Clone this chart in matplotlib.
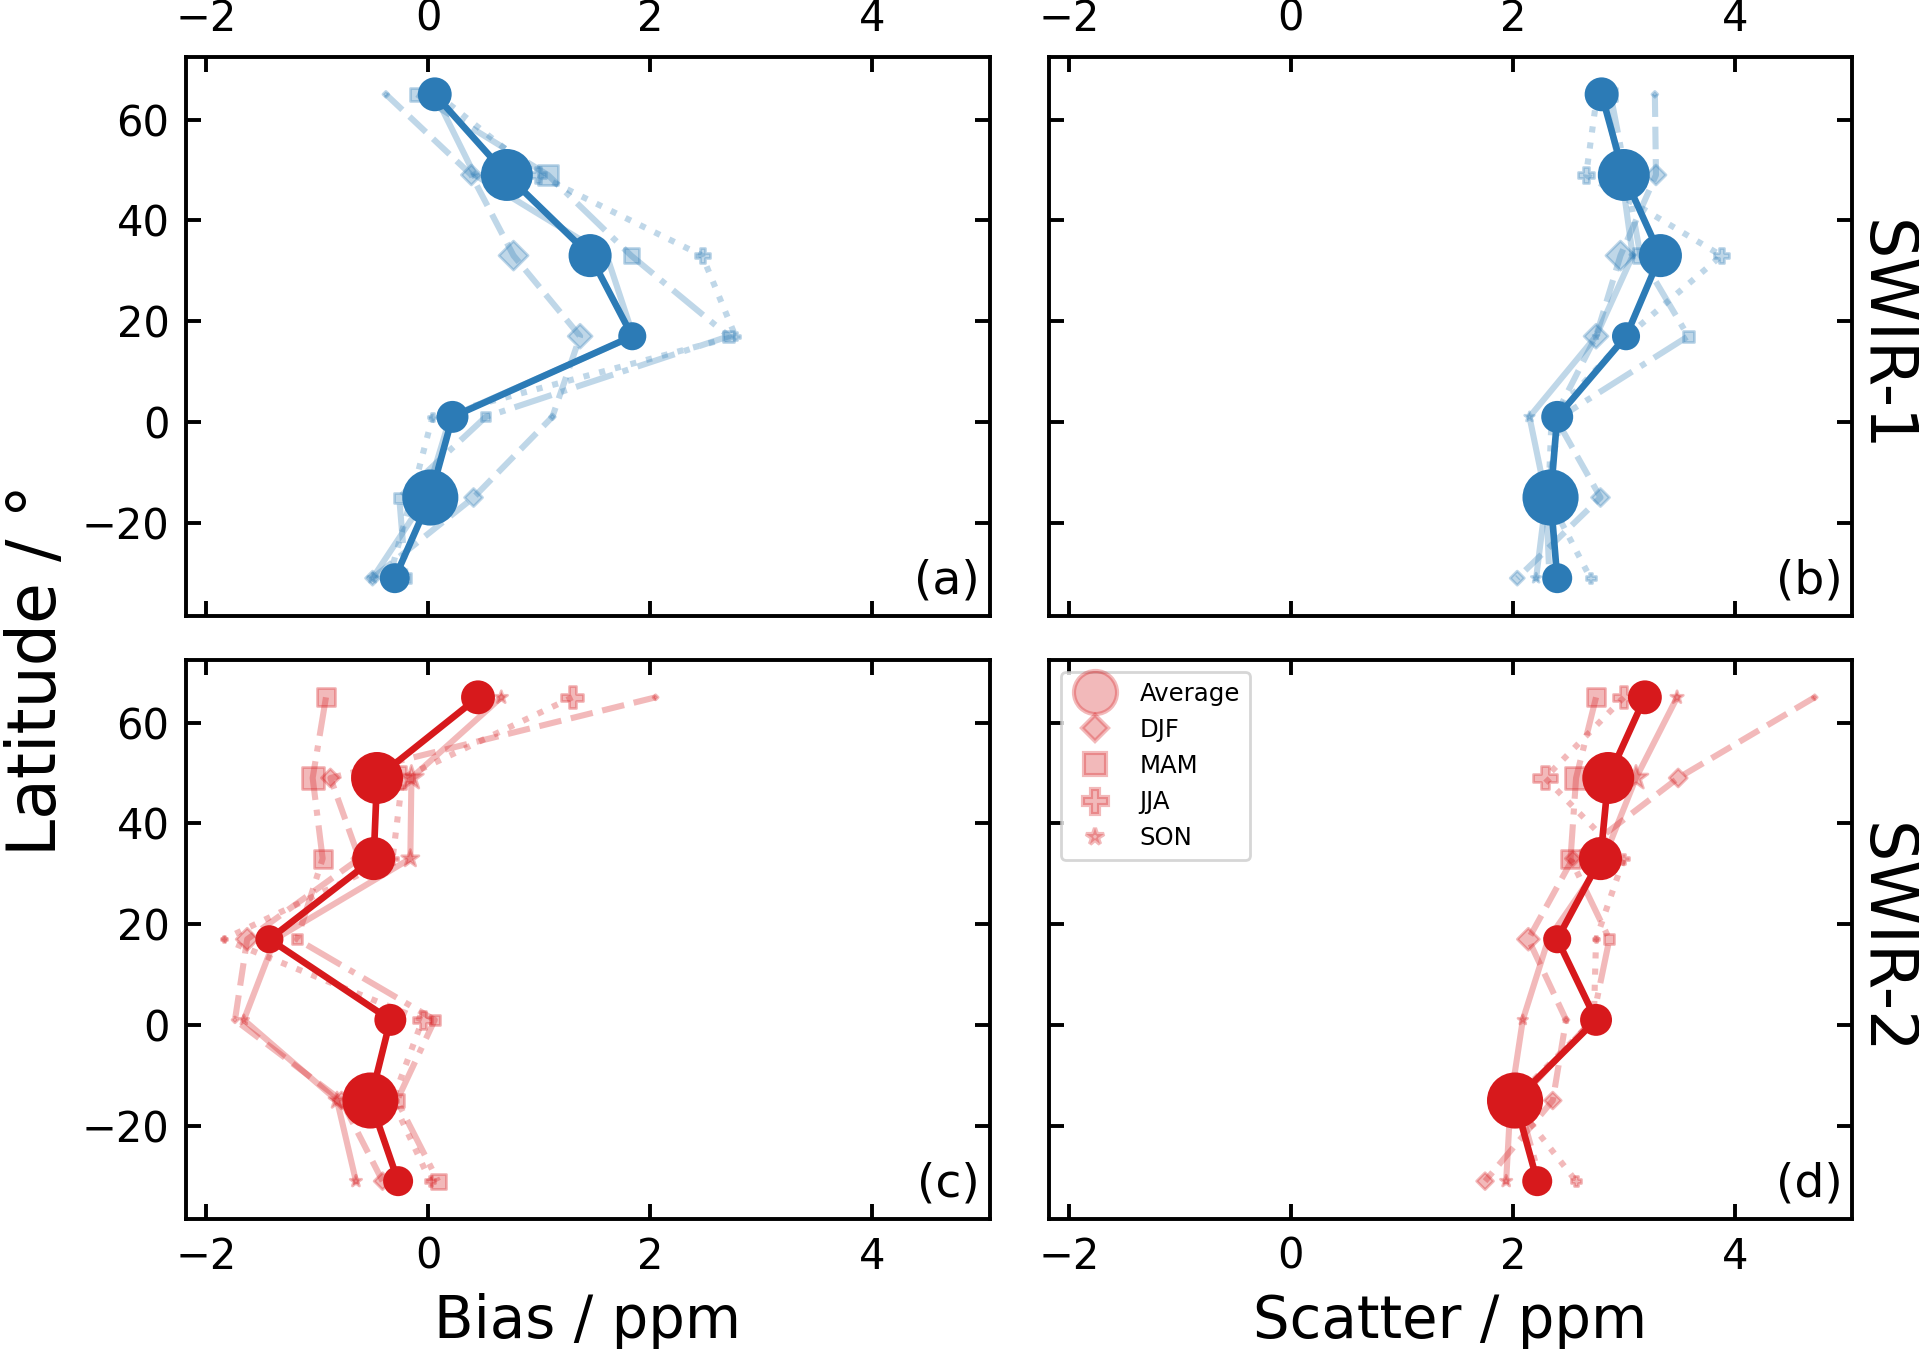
import numpy as np
import matplotlib
matplotlib.use("Agg")
import matplotlib.pyplot as plt
from matplotlib.lines import Line2D

# ---------------- data ----------------
lat = [65, 49, 33, 17, 1, -15, -31]
seasons = ["DJF", "MAM", "JJA", "SON"]

# SWIR-1 bias (a)
a_avg = [0.06, 0.71, 1.46, 1.84, 0.22, 0.02, -0.30]
a_djf = [-0.38, 0.39, 0.77, 1.37, 1.12, 0.41, -0.50]
a_mam = [-0.10, 1.08, 1.83, 2.71, 0.52, -0.26, -0.20]
a_jja = [0.08, 0.99, 2.47, 2.77, 0.04, -0.15, -0.35]
a_son = [0.06, 0.42, 1.61, 1.85, 0.20, -0.02, -0.50]

# SWIR-1 scatter (b)
b_avg = [2.80, 3.00, 3.33, 3.02, 2.40, 2.34, 2.40]
b_djf = [3.28, 3.29, 2.97, 2.75, 2.38, 2.79, 2.04]
b_mam = [2.88, 3.02, 3.15, 3.58, 2.43, 2.30, 2.33]
b_jja = [2.76, 2.66, 3.88, 3.03, 2.35, 2.32, 2.70]
b_son = [2.82, 2.98, 3.08, 2.75, 2.15, 2.30, 2.21]

# SWIR-2 bias (c)
c_avg = [0.45, -0.46, -0.49, -1.43, -0.34, -0.52, -0.27]
c_djf = [2.05, -0.88, -0.62, -1.63, -1.74, -0.78, -0.41]
c_mam = [-0.92, -1.04, -0.95, -1.18, 0.06, -0.28, 0.09]
c_jja = [1.30, -0.23, -0.32, -1.84, -0.05, -0.32, 0.02]
c_son = [0.66, -0.15, -0.16, -1.38, -1.66, -0.82, -0.65]

# SWIR-2 scatter (d)
d_avg = [3.19, 2.86, 2.79, 2.40, 2.75, 2.02, 2.22]
d_djf = [4.72, 3.49, 2.54, 2.14, 2.48, 2.36, 1.75]
d_mam = [2.75, 2.57, 2.52, 2.87, 2.72, 2.05, 2.25]
d_jja = [3.00, 2.29, 3.00, 2.75, 2.73, 2.00, 2.57]
d_son = [3.48, 3.11, 2.82, 2.32, 2.09, 1.98, 1.94]

# relative sample weights (marker diameters, pt) per latitude bin
avg_weight = [12.2, 18.7, 15.5, 10.1, 11.5, 20.2, 10.8]
w1 = {"DJF": [1.5, 5.1, 7.4, 6.1, 1.5, 4.6, 3.6],
      "MAM": [4.7, 7.2, 5.4, 4.0, 3.2, 3.6, 3.6],
      "JJA": [2.2, 5.8, 5.4, 2.9, 2.9, 2.2, 3.6],
      "SON": [2.2, 2.2, 2.2, 2.2, 3.6, 2.2, 3.6]}
w2 = {"DJF": [1.3, 4.6, 3.8, 5.6, 1.5, 4.3, 4.3],
      "MAM": [6.5, 7.9, 6.5, 3.6, 3.6, 5.0, 5.4],
      "JJA": [7.9, 8.3, 3.6, 2.2, 6.5, 3.6, 3.6],
      "SON": [4.7, 9.0, 6.5, 2.9, 3.6, 6.1, 4.3]}

panels = [
    ("(a)", a_avg, {"DJF": a_djf, "MAM": a_mam, "JJA": a_jja, "SON": a_son}, w1),
    ("(b)", b_avg, {"DJF": b_djf, "MAM": b_mam, "JJA": b_jja, "SON": b_son}, w1),
    ("(c)", c_avg, {"DJF": c_djf, "MAM": c_mam, "JJA": c_jja, "SON": c_son}, w2),
    ("(d)", d_avg, {"DJF": d_djf, "MAM": d_mam, "JJA": d_jja, "SON": d_son}, w2),
]

# ---------------- style ----------------
blue = "#2c7bb6"
red = "#d7191c"
markers = {"DJF": "D", "MAM": "s", "JJA": "P", "SON": "*"}
lstyles = {"DJF": "--", "MAM": "-.", "JJA": ":", "SON": "-"}

plt.rcParams["axes.linewidth"] = 1.4

fig = plt.figure(figsize=(9.595, 6.745), dpi=200)
W, H = 0.4187, 0.4147
lefts = [0.0970, 0.5466]
bottoms = [0.5434, 0.0964]

axes = []
for i, (tag, avg, seas, wts) in enumerate(panels):
    row, col = divmod(i, 2)
    ax = fig.add_axes([lefts[col], bottoms[row], W, H])
    axes.append(ax)
    color = blue if row == 0 else red
    for s in seasons:
        ax.plot(seas[s], lat, color=color, alpha=0.3, lw=2.2, ls=lstyles[s], zorder=1)
        ax.scatter(seas[s], lat, s=np.square(wts[s]), marker=markers[s],
                   color=color, alpha=0.3, edgecolors=color, linewidths=1.0, zorder=2)
    ax.plot(avg, lat, color=color, lw=2.4, zorder=3)
    ax.scatter(avg, lat, s=np.square(avg_weight), marker="o", color=color,
               linewidths=0, zorder=4)

    ax.set_xlim(-2.18, 5.06)
    ax.set_ylim(-38.5, 72.5)
    ax.set_xticks([-2, 0, 2, 4])
    ax.set_yticks([-20, 0, 20, 40, 60])
    ax.tick_params(direction="in", length=5.3, width=1.4, labelsize=15, pad=6,
                   top=True, right=True, bottom=True, left=True,
                   labeltop=(row == 0), labelbottom=(row == 1),
                   labelleft=(col == 0), labelright=False)
    ax.text(0.988, 0.022, tag, transform=ax.transAxes, ha="right", va="bottom",
            fontsize=17)

# legend in panel (d)
handles = [Line2D([], [], ls="none", marker="o", color=red, alpha=0.3, mec=red,
                  mew=1.5, markersize=15.5)]
leg_ms = {"DJF": 6.4, "MAM": 7.9, "JJA": 9.0, "SON": 6.5}
for s in seasons:
    handles.append(Line2D([], [], ls="none", marker=markers[s], color=red, alpha=0.3,
                          mec=red, mew=1.5, markersize=leg_ms[s]))
axes[3].legend(handles, ["Average"] + seasons, loc="upper left", fontsize=8.8)

# labels
fig.text(0.3064, 0.0082, "Bias / ppm", ha="center", va="baseline", fontsize=20.8)
fig.text(0.7558, 0.0082, "Scatter / ppm", ha="center", va="baseline", fontsize=20.8)
fig.text(0.0195, 0.5033, "Latitude / °", rotation=90, ha="center", va="center",
         fontsize=24)
fig.text(0.9817, 0.751, "SWIR-1", rotation=270, ha="center", va="center", fontsize=23.5)
fig.text(0.9817, 0.3039, "SWIR-2", rotation=270, ha="center", va="center", fontsize=23.5)

fig.savefig("out.png", dpi=200)
